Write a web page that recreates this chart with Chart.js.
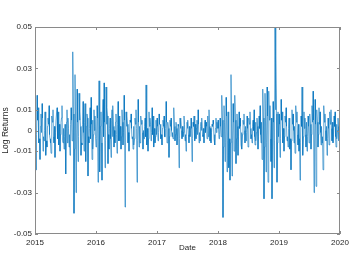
<!DOCTYPE html>
<html>
<head>
<meta charset="utf-8">
<script src="https://cdn.jsdelivr.net/npm/chart.js@4/dist/chart.umd.min.js"></script>
<style>
  html, body { margin: 0; padding: 0; background: #fff; }
  #wrap { width: 357px; height: 265px; }
</style>
</head>
<body>
<div id="wrap"><canvas id="c" width="357" height="265"></canvas></div>
<script>
// daily log returns, in units of 0.001.
// "swing" arrays hold the outer envelope, "core" arrays the small moves between them
const swing2015 = [
  15, -19, 17, 11, -6, -14, 8, 13, -10, -5,
  9, -12, -8, 6, 12, -4, -11, 7, 10, -6,
  -13, 5, 11, 9, -7, -10, 4, 12, -6, -9,
  3, -21, 10, 6, -8, -12, 11, -5, 38, -40,
  27, -30, 20, -15, 18, 9, -12, -7, 14, -10,
  13, -15, 8, -22, -6, 11, 16, -14, -9, 10, 7
];
const core2015 = [
  3, -2, 5, 1, -4, 2, -1, 6, -3, 0,
  4, -5, 2, 3, -2, -6, 1, 4, -3, 2,
  -1, 5, -4, 0, 3, -2, 6, -5, 1, -3,
  2, 4, -6, 1, -2, 3, 5, -4, 8, -9,
  6, -7, 4, -3, 5, 2, -6, 3, -1, 4,
  -5, 2, 6, -3, 1, -4, 3, 5, -2, 0, -3
];
const swing2016 = [
  -8, 12, -25, 24, -20, 9, -24, 15, 23, -18,
  21, 11, -16, -9, 6, -13, 10, 12, -8, -6,
  8, -11, 14, 7, -5, -9, 10, -7, 17, -37,
  9, 7, -6, -10, 5, 8, -4, -9, -7, 6,
  10, -25, 15, -8, -6, 7, 5, -9, -4, 6,
  22, -7, -10, 9, 6, -5, 11, 7, -8, -6, 5
];
const core2016 = [
  -4, 6, -7, 5, 2, -6, 8, -3, 4, -5,
  3, 7, -2, 1, -4, 5, -3, 2, 0, 4,
  -2, 3, -5, 1, 2, -3, 4, -1, 5, -6,
  2, 3, -1, -2, 4, 1, -3, 2, -4, 3,
  1, -5, 4, 2, -2, 3, -1, 0, 2, -3,
  5, 1, -4, 2, 3, -1, -2, 4, 1, -3, -2
];
const swing2017 = [
  6, -5, 8, 3, -4, -7, 5, 7, -3, 14,
  -6, 4, -13, 5, 6, -3, -4, 11, -5, 4,
  -7, 3, -18, 6, 5, -4, -3, 7, -5, -10,
  4, 5, -6, -3, 6, -15, 4, 7, -5, -4,
  5, 10, -6, -5, 4, 6, -3, -6, 5, 4,
  -4, 7, 10, -5, -6, 3, 5, -4, -7, 6, 4
];
const core2017 = [
  2, -1, 3, 0, -2, 1, 2, -3, 1, 4,
  -2, 1, -3, 2, 0, -1, 3, 2, -2, 1,
  -3, 2, -4, 1, 0, 2, -1, 3, -2, -3,
  1, -2, 2, 0, 1, -4, 2, -1, 3, 1,
  -2, 3, -1, 2, 0, -2, 1, 3, -1, 2,
  0, -3, 2, 1, -1, 2, 3, -2, 1, -1, 1
];
const swing2018 = [
  5, -4, 6, -3, 17, -42, 12, -15, 16, -20,
  9, -18, -24, 27, -22, 13, -10, 17, -16, 8,
  -12, 9, 6, -7, -9, 5, 8, -6, -5, 7,
  -8, 6, 9, -4, -6, 5, 10, -7, -5, 6,
  -9, 7, 12, -6, -14, 20, -33, 18, -20, 21,
  -25, 19, 12, -15, -33, 14, -18, 50, 36, -25, 9
];
const core2018 = [
  1, -2, 2, 0, 5, -8, 4, -6, 7, -5,
  3, -4, -6, 8, -5, 4, -2, 5, -4, 2,
  -3, 1, 2, -1, -2, 3, 0, 2, -1, 1,
  -2, 3, 1, -2, 2, 0, -3, 4, -1, 2,
  -3, 1, -2, 4, -5, 6, -8, 5, -6, 7,
  -7, 5, -4, 6, -9, 4, -5, 10, 8, -6, -3
];
const swing2019 = [
  8, -13, 15, 9, -6, -10, 7, 11, -5, -8,
  6, -9, -19, 10, 8, -6, -11, 12, 9, -7,
  -10, -24, 7, 21, -12, 9, 6, -8, -10, 7,
  -6, 8, -9, 12, 19, -30, 15, -27, 10, -8,
  11, 9, -7, -6, -19, 12, 8, -5, -12, 6,
  -7, 9, 10, -5, -6, 7, 9, -8, -4, 6, -5
];
const core2019 = [
  3, -4, 5, -2, 1, -3, 4, 2, -3, 1,
  2, -4, -5, 3, 0, 2, -3, 4, -2, 3,
  -4, -6, 2, 6, -3, 1, -2, 4, -3, 2,
  0, 3, -2, 4, 5, -7, 3, -6, 4, -2,
  3, -1, 2, -3, -5, 4, 0, 2, -4, 1,
  -2, 3, 1, 4, -2, 2, -3, 3, 0, 2, 2
];

const years = [2015, 2016, 2017, 2018, 2019];
const xTicks = [2015, 2016, 2017, 2018, 2019, 2020];
const yTicks = [-0.05, -0.03, -0.01, 0, 0.01, 0.03, 0.05];
const yTickLabels = ["-0.05", "-0.03", "-0.01", "0", "0.01", "0.03", "0.05"];

const swings = [swing2015, swing2016, swing2017, swing2018, swing2019];
const cores = [core2015, core2016, core2017, core2018, core2019];

const points = [];
years.forEach((yr, k) => {
  const s = swings[k], c = cores[k];
  const n = s.length * 2;
  s.forEach((v, i) => {
    points.push({ x: yr + (2 * i) / n, y: v / 1000 });
    points.push({ x: yr + (2 * i + 1) / n, y: c[i] / 1000 });
  });
});

const axisColor = "#8a8a8a";
const textColor = "#262626";
const fontFamily = "'Liberation Sans', Arial, sans-serif";

// matlab-style box with inward ticks on all four sides
const boxPlugin = {
  id: "box",
  afterDraw(chart) {
    const { ctx, chartArea: a } = chart;
    const xs = chart.scales.x, ys = chart.scales.y;
    const len = 3;
    ctx.save();
    ctx.strokeStyle = axisColor;
    ctx.lineWidth = 1;
    ctx.strokeRect(a.left + 0.5, a.top + 0.5, a.right - a.left - 1, a.bottom - a.top - 1);
    ctx.beginPath();
    xTicks.forEach((t) => {
      const px = Math.round(xs.getPixelForValue(t)) + 0.5;
      ctx.moveTo(px, a.bottom);
      ctx.lineTo(px, a.bottom - len);
      ctx.moveTo(px, a.top);
      ctx.lineTo(px, a.top + len);
    });
    yTicks.forEach((t) => {
      const py = Math.round(ys.getPixelForValue(t)) + 0.5;
      ctx.moveTo(a.left, py);
      ctx.lineTo(a.left + len, py);
      ctx.moveTo(a.right, py);
      ctx.lineTo(a.right - len, py);
    });
    ctx.stroke();
    ctx.restore();
  }
};

new Chart(document.getElementById("c"), {
  type: "line",
  data: {
    datasets: [
      {
        data: points,
        borderColor: "#0072BD",
        borderWidth: 0.6,
        pointRadius: 0,
        tension: 0,
        fill: false
      }
    ]
  },
  options: {
    responsive: false,
    animation: false,
    layout: { padding: { top: 27, right: 17, left: 0, bottom: 0 } },
    plugins: { legend: { display: false }, tooltip: { enabled: false } },
    scales: {
      x: {
        type: "linear",
        min: 2015,
        max: 2020,
        afterBuildTicks: (s) => { s.ticks = xTicks.map((v) => ({ value: v })); },
        afterFit: (s) => { s.height = 31; },
        grid: { display: false, drawTicks: false },
        border: { display: false },
        ticks: {
          padding: 4,
          maxRotation: 0,
          color: textColor,
          font: { family: fontFamily, size: 8 },
          callback: (v) => String(v)
        },
        title: {
          display: true,
          text: "Date",
          color: textColor,
          font: { family: fontFamily, size: 8 },
          padding: { top: 0, bottom: 12 }
        }
      },
      y: {
        min: -0.05,
        max: 0.05,
        afterBuildTicks: (s) => { s.ticks = yTicks.map((v) => ({ value: v })); },
        afterFit: (s) => { s.width = 35; },
        grid: { display: false, drawTicks: false },
        border: { display: false },
        ticks: {
          padding: 3,
          color: textColor,
          font: { family: fontFamily, size: 8 },
          callback: (v, i) => yTickLabels[i]
        },
        title: {
          display: true,
          text: "Log Returns",
          color: textColor,
          font: { family: fontFamily, size: 8.5 },
          padding: { top: 1, bottom: 0 }
        }
      }
    }
  },
  plugins: [boxPlugin]
});
</script>
</body>
</html>
